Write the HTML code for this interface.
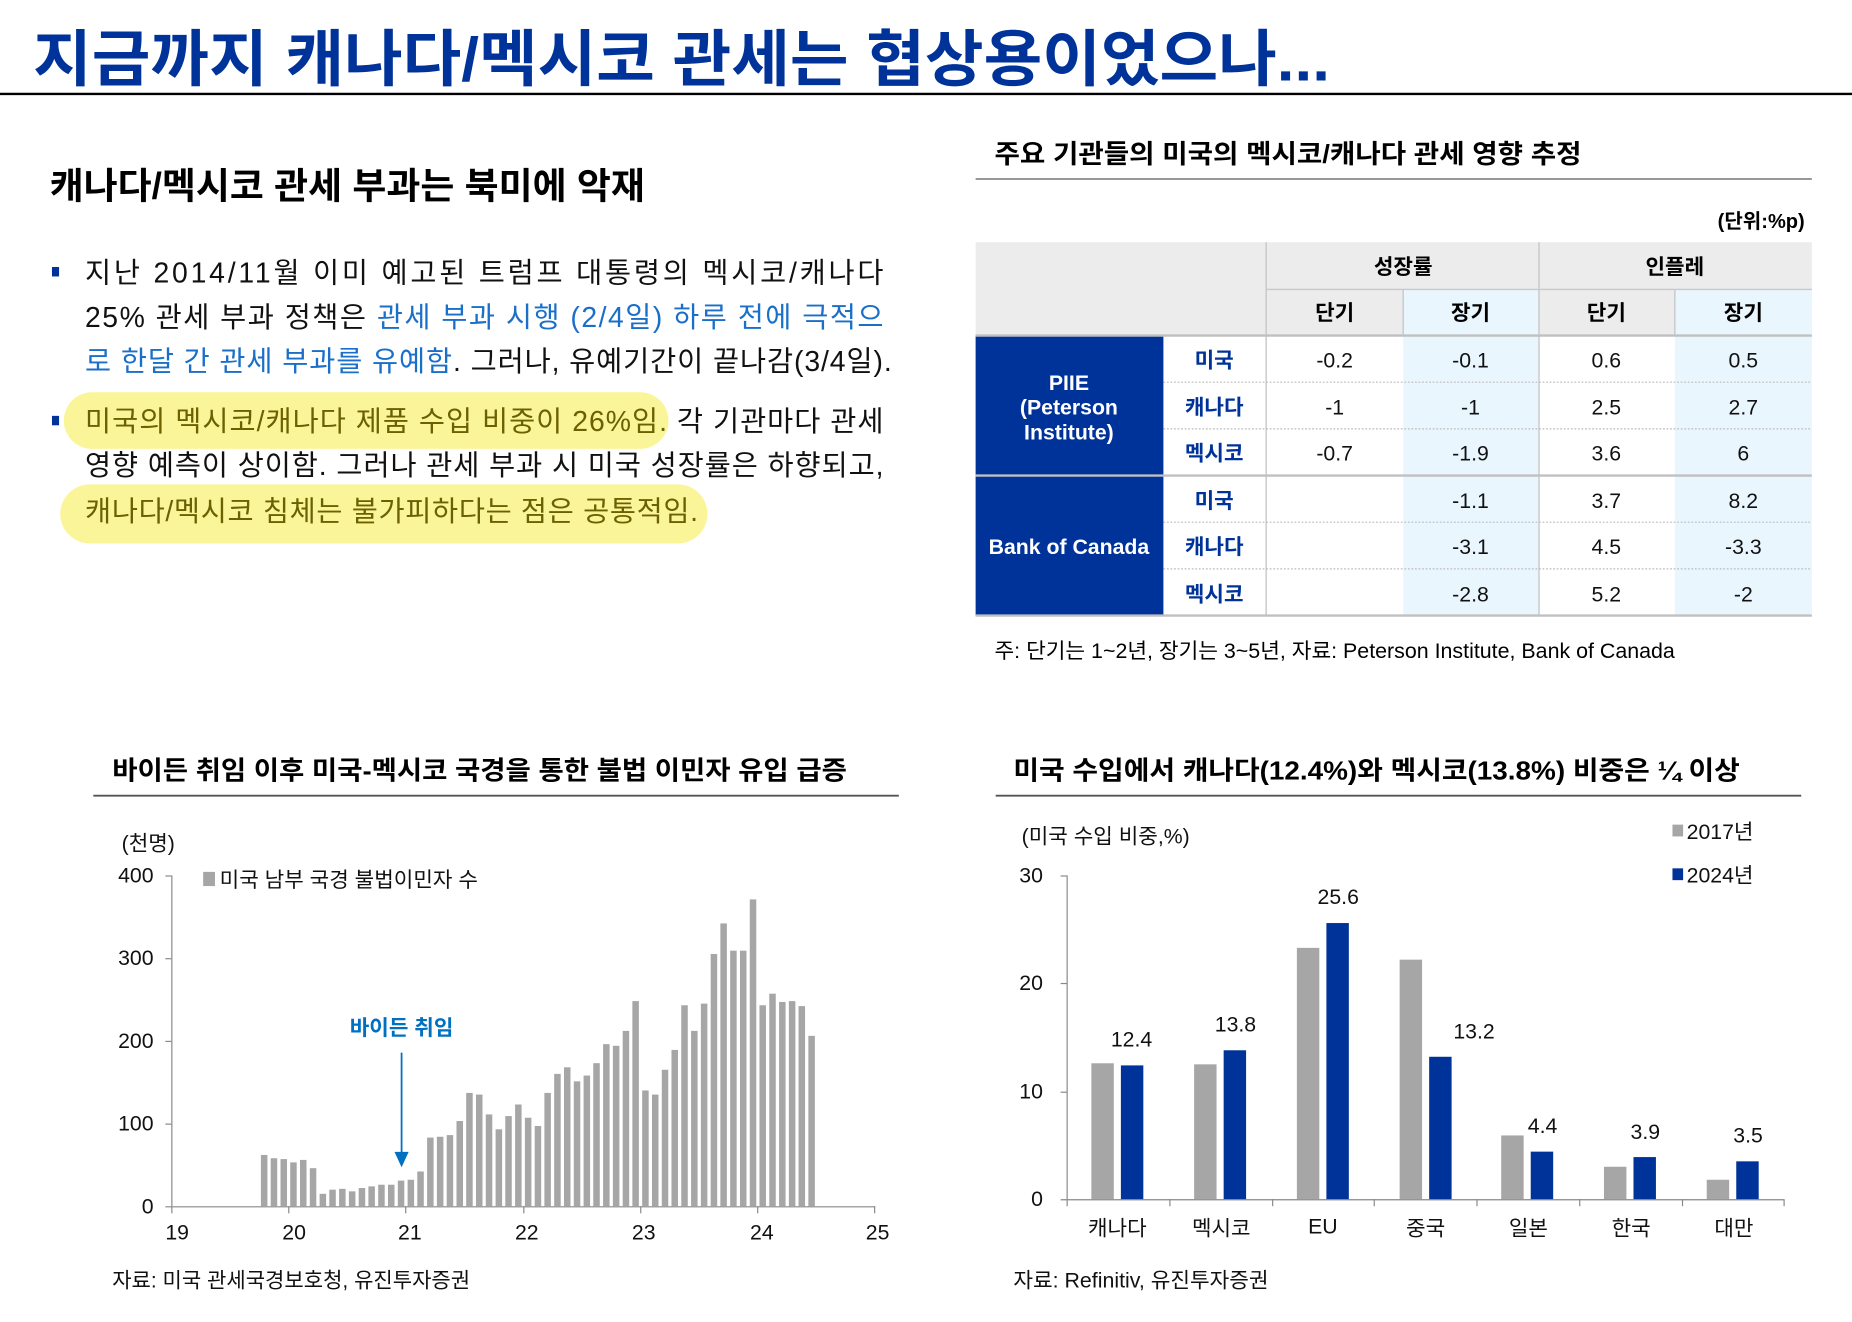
<!DOCTYPE html>
<html><head><meta charset="utf-8"><style>
html,body{margin:0;padding:0;background:#fff;}
svg{display:block;font-family:"Liberation Sans","Noto Sans CJK KR",sans-serif;}
</style></head><body>
<svg width="1852" height="1322" viewBox="0 0 1568 1119" preserveAspectRatio="none" xmlns="http://www.w3.org/2000/svg">
<rect width="1568" height="1119" fill="#fff"/>
<!-- Title -->
<text x="28" y="68" font-size="52" font-weight="bold" fill="#00339a" textLength="1098" lengthAdjust="spacingAndGlyphs">지금까지 캐나다/멕시코 관세는 협상용이었으나...</text>
<line x1="0" y1="79.5" x2="1568" y2="79.5" stroke="#000" stroke-width="2"/>
<text x="42" y="168" font-size="31" font-weight="bold" fill="#000" textLength="504" lengthAdjust="spacingAndGlyphs">캐나다/멕시코 관세 부과는 북미에 악재</text>

<!-- Bullets -->
<rect x="44" y="226" width="6" height="8" fill="#00339a"/>
<rect x="44" y="352" width="6" height="8" fill="#00339a"/>
<rect x="54" y="332" width="512" height="48" rx="24" fill="#fbf59a"/>
<rect x="51" y="410" width="548" height="50" rx="25" fill="#fbf59a"/>
<g font-size="24" fill="#111">
<text x="72" y="239" textLength="676" lengthAdjust="spacing">지난 2014/11월 이미 예고된 트럼프 대통령의 멕시코/캐나다</text>
<text x="72" y="277" textLength="676" lengthAdjust="spacing">25% 관세 부과 정책은 <tspan fill="#1a6fc9">관세 부과 시행 (2/4일) 하루 전에 극적으</tspan></text>
<text x="72" y="314" textLength="683" lengthAdjust="spacing"><tspan fill="#1a6fc9">로 한달 간 관세 부과를 유예함</tspan>. 그러나, 유예기간이 끝나감(3/4일).</text>
<text x="72" y="365" textLength="676" lengthAdjust="spacing"><tspan fill="#6b6100">미국의 멕시코/캐나다 제품 수입 비중이 26%임.</tspan> 각 기관마다 관세</text>
<text x="72" y="402" textLength="676" lengthAdjust="spacing">영향 예측이 상이함. 그러나 관세 부과 시 미국 성장률은 하향되고,</text>
<text x="72" y="441" fill="#6b6100" textLength="519" lengthAdjust="spacing">캐나다/멕시코 침체는 불가피하다는 점은 공통적임.</text>
</g>

<!-- Table -->
<text x="842" y="138" font-size="22" font-weight="bold" textLength="497" lengthAdjust="spacingAndGlyphs">주요 기관들의 미국의 멕시코/캐나다 관세 영향 추정</text>
<line x1="826" y1="151.5" x2="1534" y2="151.5" stroke="#888" stroke-width="1.5"/>
<text x="1528" y="193" font-size="17" font-weight="bold" text-anchor="end">(단위:%p)</text>
<rect x="826" y="205" width="708" height="79" fill="#ececec"/>
<rect x="1188" y="245" width="115" height="39" fill="#eaf6fd"/>
<rect x="1418" y="245" width="116" height="39" fill="#eaf6fd"/>
<rect x="1188" y="284" width="115" height="237" fill="#eaf6fd"/>
<rect x="1418" y="284" width="116" height="237" fill="#eaf6fd"/>
<rect x="826" y="284" width="159" height="237" fill="#003399"/>
<g stroke="#c8c8c8" stroke-width="1.2">
<line x1="1072" y1="205" x2="1072" y2="521"/>
<line x1="1303" y1="205" x2="1303" y2="521"/>
<line x1="1072" y1="245" x2="1534" y2="245"/>
<line x1="1188" y1="245" x2="1188" y2="284"/>
<line x1="1418" y1="245" x2="1418" y2="284"/>
</g>
<g stroke="#bbb" stroke-width="1" stroke-dasharray="1.5,1.5">
<line x1="985" y1="323.5" x2="1534" y2="323.5"/><line x1="985" y1="363" x2="1534" y2="363"/>
<line x1="985" y1="442" x2="1534" y2="442"/><line x1="985" y1="481.5" x2="1534" y2="481.5"/>
</g>
<g stroke="#c0c0c0" stroke-width="2">
<line x1="826" y1="284" x2="1534" y2="284"/><line x1="826" y1="402.5" x2="1534" y2="402.5"/><line x1="826" y1="521" x2="1534" y2="521"/>
</g>
<g font-size="18" text-anchor="middle" font-weight="bold">
<text x="1188" y="232">성장률</text><text x="1418" y="232">인플레</text>
<text x="1130" y="271">단기</text><text x="1245" y="271">장기</text><text x="1360" y="271">단기</text><text x="1476" y="271">장기</text>
<g fill="#fff"><text x="905" y="330">PIIE</text><text x="905" y="351">(Peterson</text><text x="905" y="372">Institute)</text><text x="905" y="469">Bank of Canada</text></g>
<g fill="#00339a"><text x="1028" y="311">미국</text><text x="1028" y="351">캐나다</text><text x="1028" y="390">멕시코</text><text x="1028" y="430">미국</text><text x="1028" y="469">캐나다</text><text x="1028" y="509">멕시코</text></g>
</g>
<g font-size="18" text-anchor="middle" fill="#111">
<text x="1130" y="311">-0.2</text><text x="1245" y="311">-0.1</text><text x="1360" y="311">0.6</text><text x="1476" y="311">0.5</text>
<text x="1130" y="351">-1</text><text x="1245" y="351">-1</text><text x="1360" y="351">2.5</text><text x="1476" y="351">2.7</text>
<text x="1130" y="390">-0.7</text><text x="1245" y="390">-1.9</text><text x="1360" y="390">3.6</text><text x="1476" y="390">6</text>
<text x="1245" y="430">-1.1</text><text x="1360" y="430">3.7</text><text x="1476" y="430">8.2</text>
<text x="1245" y="469">-3.1</text><text x="1360" y="469">4.5</text><text x="1476" y="469">-3.3</text>
<text x="1245" y="509">-2.8</text><text x="1360" y="509">5.2</text><text x="1476" y="509">-2</text>
</g>
<text x="842" y="557" font-size="18" textLength="576" lengthAdjust="spacingAndGlyphs">주: 단기는 1~2년, 장기는 3~5년, 자료: Peterson Institute, Bank of Canada</text>

<!-- Chart 1 -->
<text x="95" y="660" font-size="22" font-weight="bold" textLength="622" lengthAdjust="spacingAndGlyphs">바이든 취임 이후 미국-멕시코 국경을 통한 불법 이민자 유입 급증</text>
<line x1="79" y1="673.5" x2="761" y2="673.5" stroke="#555" stroke-width="1.5"/>
<g font-size="18" fill="#111">
<text x="103" y="720">(천명)</text>
<g text-anchor="end"><text x="130" y="747">400</text><text x="130" y="817">300</text><text x="130" y="887">200</text><text x="130" y="957">100</text><text x="130" y="1027">0</text></g>
<g text-anchor="middle"><text x="150" y="1049">19</text><text x="249" y="1049">20</text><text x="347" y="1049">21</text><text x="446" y="1049">22</text><text x="545" y="1049">23</text><text x="645" y="1049">24</text><text x="743" y="1049">25</text></g>
<rect x="172" y="738" width="10" height="12" fill="#a6a6a6"/>
<text x="186" y="751">미국 남부 국경 불법이민자 수</text>
<text x="95" y="1090" textLength="303" lengthAdjust="spacingAndGlyphs">자료: 미국 관세국경보호청, 유진투자증권</text>
</g>
<g stroke="#888" stroke-width="1">
<line x1="145.5" y1="741" x2="145.5" y2="1021"/>
<line x1="140" y1="741.5" x2="145" y2="741.5"/><line x1="140" y1="811.5" x2="145" y2="811.5"/><line x1="140" y1="881.5" x2="145" y2="881.5"/><line x1="140" y1="951.5" x2="145" y2="951.5"/>
<line x1="140" y1="1021.5" x2="741" y2="1021.5"/>
<line x1="145.5" y1="1021" x2="145.5" y2="1027"/><line x1="244.5" y1="1021" x2="244.5" y2="1027"/><line x1="343.5" y1="1021" x2="343.5" y2="1027"/><line x1="443.5" y1="1021" x2="443.5" y2="1027"/><line x1="542.5" y1="1021" x2="542.5" y2="1027"/><line x1="641.5" y1="1021" x2="641.5" y2="1027"/><line x1="740.5" y1="1021" x2="740.5" y2="1027"/>
</g>
<g transform="translate(0,1021) scale(1,-1)" fill="#a6a6a6">
<rect x="220.9" width="5.5" height="43.4"/><rect x="229.2" width="5.5" height="40.6"/><rect x="237.5" width="5.5" height="39.9"/><rect x="245.7" width="5.5" height="37.1"/><rect x="254.0" width="5.5" height="39.2"/><rect x="262.3" width="5.5" height="32.2"/><rect x="270.6" width="5.5" height="10.5"/><rect x="278.8" width="5.5" height="14"/><rect x="287.1" width="5.5" height="14.7"/><rect x="295.4" width="5.5" height="12.6"/><rect x="303.7" width="5.5" height="15.4"/><rect x="311.9" width="5.5" height="16.8"/><rect x="320.2" width="5.5" height="18.2"/><rect x="328.5" width="5.5" height="18.2"/><rect x="336.8" width="5.5" height="21.7"/><rect x="345.1" width="5.5" height="22.4"/><rect x="353.3" width="5.5" height="29.4"/><rect x="361.6" width="5.5" height="58.1"/><rect x="369.9" width="5.5" height="58.8"/><rect x="378.2" width="5.5" height="60.2"/><rect x="386.5" width="5.5" height="72.1"/><rect x="394.7" width="5.5" height="95.9"/><rect x="403.0" width="5.5" height="94.5"/><rect x="411.3" width="5.5" height="77.7"/><rect x="419.6" width="5.5" height="65.1"/><rect x="427.8" width="5.5" height="76.3"/><rect x="436.1" width="5.5" height="86.1"/><rect x="444.4" width="5.5" height="74.9"/><rect x="452.7" width="5.5" height="67.9"/><rect x="460.9" width="5.5" height="95.9"/><rect x="469.2" width="5.5" height="112"/><rect x="477.5" width="5.5" height="117.6"/><rect x="485.8" width="5.5" height="105.7"/><rect x="494.1" width="5.5" height="110.6"/><rect x="502.3" width="5.5" height="121.1"/><rect x="510.6" width="5.5" height="137.2"/><rect x="518.9" width="5.5" height="135.8"/><rect x="527.2" width="5.5" height="148.4"/><rect x="535.4" width="5.5" height="173.6"/><rect x="543.7" width="5.5" height="98"/><rect x="552.0" width="5.5" height="94.5"/><rect x="560.3" width="5.5" height="115.5"/><rect x="568.5" width="5.5" height="132.3"/><rect x="576.8" width="5.5" height="170.1"/><rect x="585.1" width="5.5" height="148.4"/><rect x="593.4" width="5.5" height="171.5"/><rect x="601.7" width="5.5" height="213.5"/><rect x="609.9" width="5.5" height="239.4"/><rect x="618.2" width="5.5" height="216.3"/><rect x="626.5" width="5.5" height="216.3"/><rect x="634.8" width="5.5" height="259.7"/><rect x="643.0" width="5.5" height="170.1"/><rect x="651.3" width="5.5" height="179.9"/><rect x="659.6" width="5.5" height="172.9"/><rect x="667.9" width="5.5" height="173.6"/><rect x="676.1" width="5.5" height="169.4"/><rect x="684.4" width="5.5" height="144.2"/>
</g>
<text x="340" y="876" font-size="18" font-weight="bold" fill="#0070c0" text-anchor="middle">바이든 취임</text>
<line x1="340" y1="891" x2="340" y2="978" stroke="#0070c0" stroke-width="1.5"/>
<polygon points="334,975 346,975 340,988" fill="#0070c0"/>

<!-- Chart 2 -->
<text x="858" y="660" font-size="22" font-weight="bold" textLength="615" lengthAdjust="spacingAndGlyphs">미국 수입에서 캐나다(12.4%)와 멕시코(13.8%) 비중은 ¼ 이상</text>
<line x1="843" y1="673.5" x2="1525" y2="673.5" stroke="#555" stroke-width="1.5"/>
<g font-size="18" fill="#111">
<text x="865" y="714">(미국 수입 비중,%)</text>
<g text-anchor="end"><text x="883" y="747">30</text><text x="883" y="838">20</text><text x="883" y="930">10</text><text x="883" y="1021">0</text></g>
<g text-anchor="middle"><text x="946" y="1046">캐나다</text><text x="1034" y="1046">멕시코</text><text x="1120" y="1044">EU</text><text x="1207" y="1046">중국</text><text x="1294" y="1046">일본</text><text x="1381" y="1046">한국</text><text x="1468" y="1046">대만</text></g>
<g text-anchor="middle"><text x="958" y="886">12.4</text><text x="1046" y="873">13.8</text><text x="1133" y="765">25.6</text><text x="1248" y="879">13.2</text><text x="1306" y="959">4.4</text><text x="1393" y="964">3.9</text><text x="1480" y="967">3.5</text></g>
<rect x="1416" y="698" width="9" height="10" fill="#a6a6a6"/><text x="1428" y="710">2017년</text>
<rect x="1416" y="735" width="9" height="10" fill="#003399"/><text x="1428" y="747">2024년</text>
<text x="858" y="1090" textLength="216" lengthAdjust="spacingAndGlyphs">자료: Refinitiv, 유진투자증권</text>
</g>
<g stroke="#888" stroke-width="1">
<line x1="903.5" y1="741" x2="903.5" y2="1015"/>
<line x1="898" y1="741.5" x2="903" y2="741.5"/><line x1="898" y1="832.5" x2="903" y2="832.5"/><line x1="898" y1="924.5" x2="903" y2="924.5"/>
<line x1="898" y1="1015.5" x2="1510" y2="1015.5"/>
<line x1="903.5" y1="1015" x2="903.5" y2="1021"/><line x1="990.5" y1="1015" x2="990.5" y2="1021"/><line x1="1077.5" y1="1015" x2="1077.5" y2="1021"/><line x1="1163.5" y1="1015" x2="1163.5" y2="1021"/><line x1="1250.5" y1="1015" x2="1250.5" y2="1021"/><line x1="1337.5" y1="1015" x2="1337.5" y2="1021"/><line x1="1424.5" y1="1015" x2="1424.5" y2="1021"/><line x1="1510.5" y1="1015" x2="1510.5" y2="1021"/>
</g>
<g transform="translate(0,1015) scale(1,-1)">
<g fill="#a6a6a6">
<rect x="924" width="19" height="115"/><rect x="1011" width="19" height="114.1"/><rect x="1098" width="19" height="212.7"/><rect x="1185" width="19" height="202.7"/><rect x="1271" width="19" height="53.9"/><rect x="1358" width="19" height="27.4"/><rect x="1445" width="19" height="16.4"/>
</g>
<g fill="#003399">
<rect x="949" width="19" height="113.2"/><rect x="1036" width="19" height="126"/><rect x="1123" width="19" height="233.7"/><rect x="1210" width="19" height="120.5"/><rect x="1296" width="19" height="40.2"/><rect x="1383" width="19" height="35.6"/><rect x="1470" width="19" height="32"/>
</g>
</g>
</svg>
</body></html>
